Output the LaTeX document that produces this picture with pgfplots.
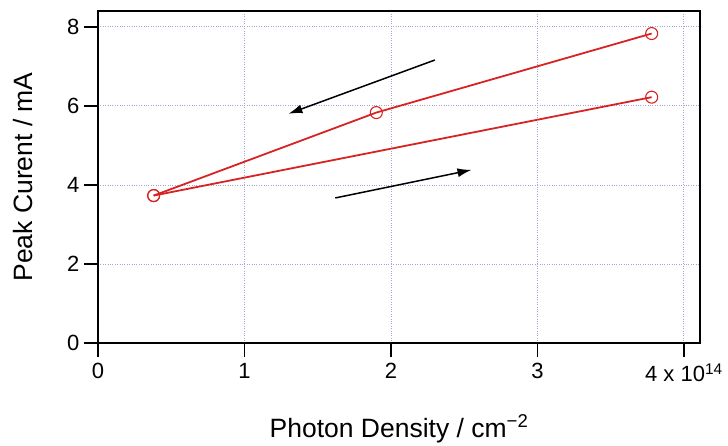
\documentclass[border=0pt]{standalone}
\usepackage{pgfplots}
\pgfplotsset{compat=1.18}
\usetikzlibrary{arrows.meta}
\usepackage{fontspec}
\setmainfont{Liberation Sans}
\definecolor{gridc}{RGB}{165,165,215}
\definecolor{redl}{RGB}{215,35,35}
\begin{document}
\begin{tikzpicture}
\useasboundingbox (-98pt,-102pt) rectangle (630pt,343pt);
\begin{axis}[
  at={(0pt,0pt)}, anchor=south west,
  scale only axis, width=602pt, height=332pt,
  xmin=0, xmax=4.11, ymin=0, ymax=8.4,
  xtick={0,1,2,3,4}, ytick={0,2,4,6,8},
  xticklabels={0,1,2,3,{4 x 10\textsuperscript{14}}},
  xtick pos=left, ytick pos=left,
  tick align=outside,
  major tick length=14pt,
  every tick/.style={black, line width=1.4pt},
  axis line style={line width=1.6pt},
  grid=major,
  major grid style={gridc, dotted, line width=0.8pt},
  /pgf/number format/assume math mode=true,
  tick label style={font=\fontsize{22}{25}\selectfont},
  xticklabel style={yshift=-3pt},
  yticklabel style={xshift=-1pt},
  label style={font=\fontsize{26.5}{30}\selectfont},
  xlabel={Photon Density / cm\textsuperscript{−2}},
  ylabel={Peak Curent / mA},
  xlabel style={at={(axis description cs:0.5,0)}, anchor=base, yshift=-94pt},
  ylabel style={at={(axis description cs:0,0.5)}, anchor=center, yshift=75pt},
]
\addplot[redl, line width=1.8pt, mark=o, mark size=6pt, mark options={line width=1.1pt}]
  coordinates {(0.38,3.73) (3.78,6.22)};
\addplot[redl, line width=1.8pt, mark=o, mark size=6pt, mark options={line width=1.1pt}]
  coordinates {(3.78,7.83) (1.90,5.83) (0.38,3.73)};
\draw[-{Latex[length=14pt,width=9pt]}, line width=1.5pt] (axis cs:2.30,7.16) -- (axis cs:1.30,5.80);
\draw[-{Latex[length=14pt,width=9pt]}, line width=1.5pt] (axis cs:1.62,3.67) -- (axis cs:2.55,4.38);
\end{axis}
\end{tikzpicture}
\end{document}
